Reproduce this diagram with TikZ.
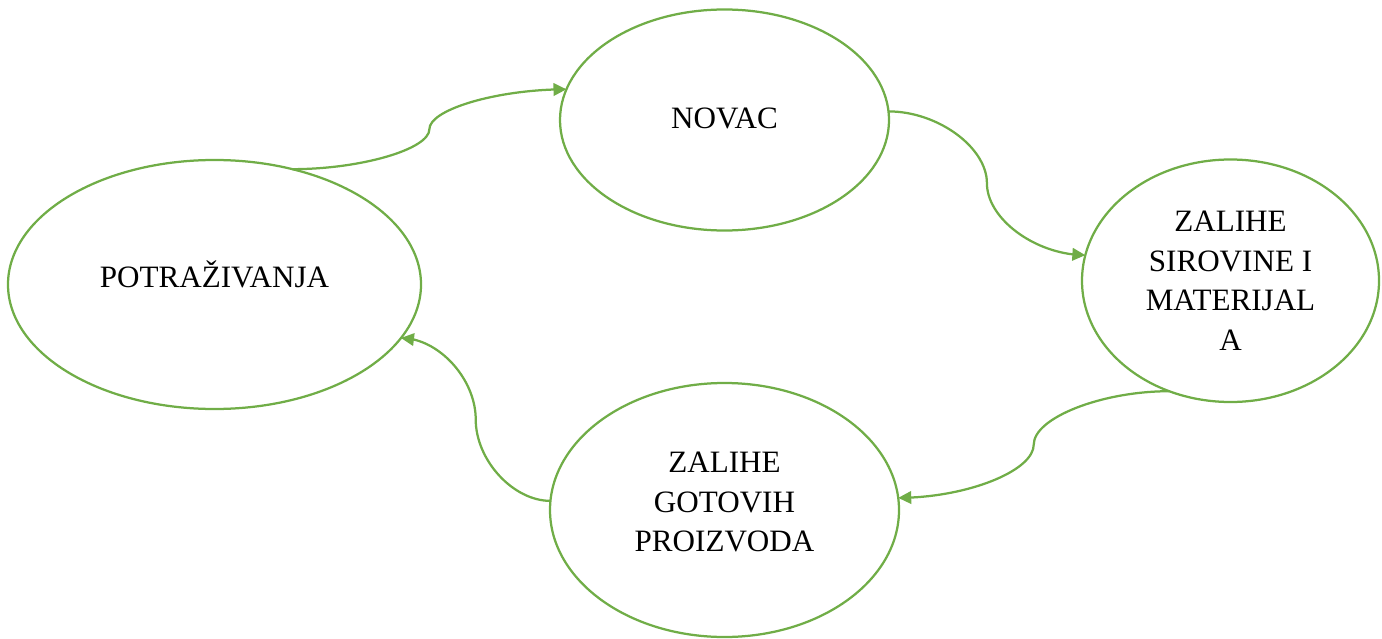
\documentclass[tikz,border=0pt]{standalone}
\usepackage{fontspec}
\setmainfont{Liberation Serif}
\usepackage{xcolor}
\usetikzlibrary{arrows.meta,bending,calc,shapes.geometric}
\definecolor{leafgreen}{HTML}{70AD47}

\begin{document}
\begin{tikzpicture}[
  x=0.2mm, y=-0.2mm,
  stage/.style={draw=leafgreen, line width=0.45mm, ellipse, inner sep=0pt,
    outer sep=0pt, align=center, font=\fontsize{17.7}{22.5}\selectfont},
  wire/.style={to path={let \p1=(\tikztostart), \p2=(\tikztotarget) in
    .. controls ({(3*\x1+\x2)/4},\y1) and ({(\x1+\x2)/2},{(3*\y1+\y2)/4})
    .. ({(\x1+\x2)/2},{(\y1+\y2)/2})
    .. controls ({(\x1+\x2)/2},{(\y1+3*\y2)/4}) and ({(\x1+3*\x2)/4},\y2)
    .. (\tikztotarget) \tikztonodes}},
  flow/.style={draw=leafgreen, line width=0.45mm,
    -{Triangle[length=2.6mm,width=2.5mm]}}
]
\useasboundingbox (0,0) rectangle (1382,639);

\node[stage, minimum width=82.6mm, minimum height=49.8mm, text depth=4mm] (pot) at (214.5,284.5) {POTRAŽIVANJA};
\node[stage, minimum width=65.8mm, minimum height=44.2mm, text depth=0.8mm] (nov) at (724.5,120) {NOVAC};
\node[stage, minimum width=59.4mm, minimum height=48.5mm] (zsm) at (1230.5,280.75) {ZALIHE\\SIROVINE I\\MATERIJAL\\A};
\node[stage, minimum width=69.8mm, minimum height=50.8mm, text depth=3.2mm] (zgp) at (724.5,510) {ZALIHE\\GOTOVIH\\PROIZVODA};

\draw[flow] (pot.56) to[wire] (nov.169);
\draw[flow] (nov.3) to[wire] (zsm.170);
\draw[flow] (zsm.241) to[wire] (zgp.4);
\draw[flow] (zgp.177) to[wire] (pot.-16);
\end{tikzpicture}
\end{document}
